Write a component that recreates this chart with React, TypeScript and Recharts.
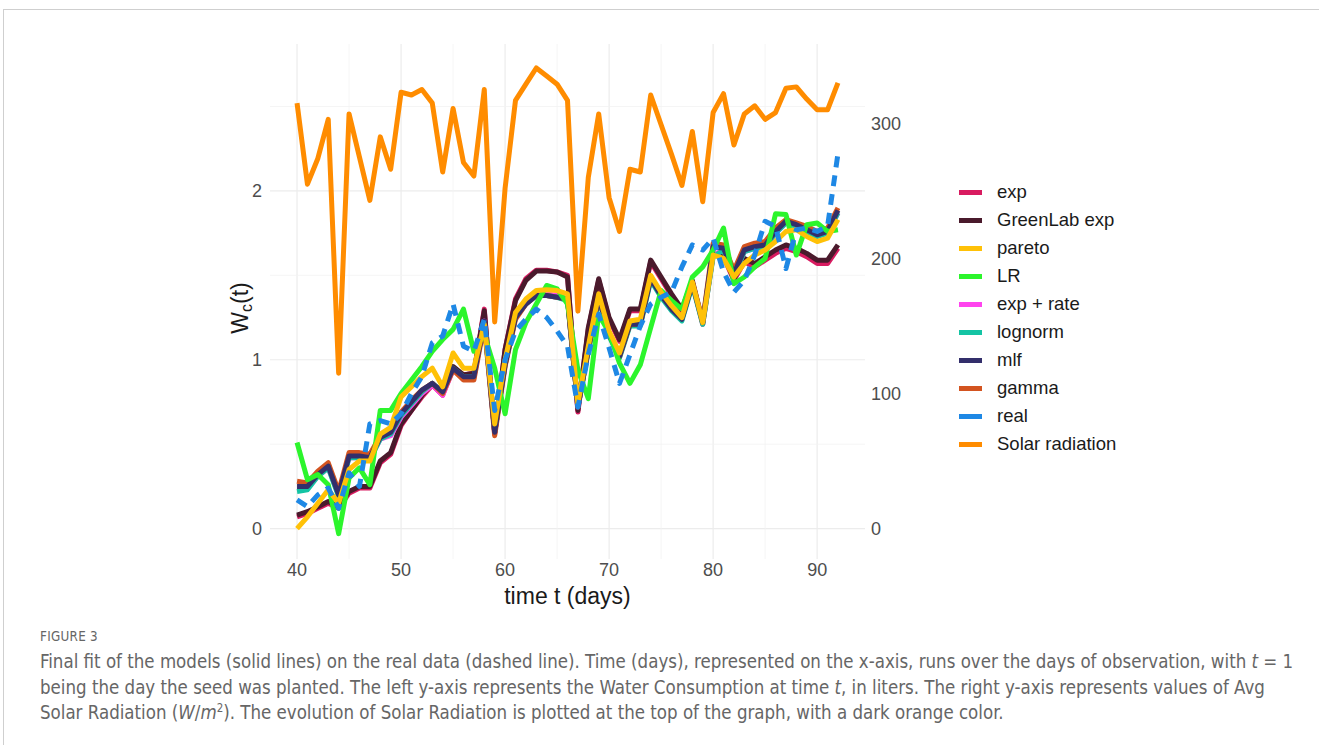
import React from 'react';
import { LineChart, Line, XAxis, YAxis, CartesianGrid, Legend, Label } from 'recharts';

// days of observation
const days = [
  40, 41, 42, 43, 44, 45, 46, 47, 48, 49, 50, 51, 52, 53, 54, 55, 56, 57, 58, 59,
  60, 61, 62, 63, 64, 65, 66, 67, 68, 69, 70, 71, 72, 73, 74, 75, 76, 77, 78, 79,
  80, 81, 82, 83, 84, 85, 86, 87, 88, 89, 90, 91, 92,
];

// water consumption, litres (left axis)
const expVals = [
  0.07, 0.09, 0.12, 0.15, 0.12, 0.21, 0.24, 0.24, 0.39, 0.44, 0.61, 0.7, 0.78, 0.85, 0.79, 0.95, 0.91, 0.92, 1.3, 0.56,
  1.06, 1.36, 1.48, 1.53, 1.53, 1.52, 1.5, 0.69, 1.18, 1.47, 1.24, 1.11, 1.29, 1.29, 1.58, 1.48, 1.38, 1.29, 1.46, 1.21,
  1.62, 1.61, 1.47, 1.58, 1.55, 1.59, 1.63, 1.66, 1.64, 1.61, 1.57, 1.57, 1.66,
];
const greenLabVals = [
  0.08, 0.1, 0.13, 0.16, 0.13, 0.22, 0.25, 0.25, 0.4, 0.45, 0.62, 0.7, 0.79, 0.86, 0.8, 0.96, 0.91, 0.92, 1.29, 0.57,
  1.06, 1.35, 1.47, 1.525, 1.525, 1.52, 1.49, 0.7, 1.19, 1.48, 1.25, 1.12, 1.3, 1.3, 1.59, 1.49, 1.39, 1.3, 1.47, 1.22,
  1.63, 1.62, 1.48, 1.6, 1.57, 1.61, 1.65, 1.68, 1.66, 1.63, 1.59, 1.59, 1.68,
];
const paretoVals = [
  0.0, 0.07, 0.15, 0.23, 0.15, 0.35, 0.4, 0.4, 0.56, 0.6, 0.78, 0.84, 0.9, 0.95, 0.84, 1.04, 0.95, 0.95, 1.21, 0.62,
  1.0, 1.28, 1.36, 1.41, 1.415, 1.41, 1.39, 0.74, 1.08, 1.39, 1.17, 1.04, 1.23, 1.24, 1.5, 1.4, 1.32, 1.25, 1.46, 1.22,
  1.62, 1.6, 1.49, 1.57, 1.62, 1.65, 1.7, 1.76, 1.77, 1.73, 1.7, 1.72, 1.83,
];
const lrVals = [
  0.51, 0.29, 0.32, 0.26, -0.03, 0.3, 0.36, 0.26, 0.7, 0.7, 0.8, 0.88, 0.96, 1.05, 1.12, 1.18, 1.3, 1.05, 1.15, 0.95,
  0.68, 1.06, 1.22, 1.33, 1.44, 1.42, 1.33, 0.94, 0.77, 1.27, 1.16, 0.98, 0.86, 0.97, 1.19, 1.41, 1.35, 1.3, 1.49, 1.55,
  1.65, 1.78, 1.45, 1.49, 1.55, 1.6, 1.865, 1.86, 1.62, 1.8, 1.81, 1.76, 1.77,
];
const expRateVals = [
  0.24, 0.24, 0.31, 0.36, 0.2, 0.42, 0.42, 0.41, 0.53, 0.55, 0.66, 0.73, 0.8, 0.85, 0.79, 0.94, 0.89, 0.89, 1.23, 0.57,
  0.98, 1.26, 1.34, 1.39, 1.39, 1.38, 1.36, 0.72, 1.06, 1.37, 1.15, 1.02, 1.21, 1.21, 1.48, 1.38, 1.3, 1.24, 1.45, 1.22,
  1.62, 1.65, 1.5, 1.64, 1.66, 1.67, 1.75, 1.81, 1.79, 1.76, 1.73, 1.75, 1.87,
];
const lognormVals = [
  0.22, 0.23, 0.31, 0.36, 0.19, 0.42, 0.42, 0.41, 0.53, 0.56, 0.67, 0.74, 0.81, 0.86, 0.81, 0.95, 0.9, 0.9, 1.22, 0.57,
  0.97, 1.25, 1.33, 1.38, 1.38, 1.37, 1.35, 0.72, 1.05, 1.36, 1.14, 1.01, 1.2, 1.2, 1.47, 1.37, 1.29, 1.23, 1.44, 1.21,
  1.61, 1.65, 1.5, 1.64, 1.66, 1.67, 1.75, 1.81, 1.79, 1.76, 1.73, 1.75, 1.87,
];
const mlfVals = [
  0.25, 0.25, 0.32, 0.37, 0.2, 0.43, 0.43, 0.42, 0.54, 0.57, 0.68, 0.75, 0.82, 0.86, 0.81, 0.95, 0.9, 0.9, 1.23, 0.57,
  0.97, 1.25, 1.33, 1.38, 1.38, 1.37, 1.36, 0.72, 1.06, 1.37, 1.15, 1.02, 1.21, 1.21, 1.48, 1.38, 1.3, 1.24, 1.45, 1.22,
  1.67, 1.66, 1.51, 1.65, 1.67, 1.68, 1.76, 1.82, 1.8, 1.77, 1.74, 1.76, 1.885,
];
const gammaVals = [
  0.28, 0.27, 0.34, 0.39, 0.22, 0.45, 0.45, 0.44, 0.55, 0.58, 0.69, 0.76, 0.82, 0.86, 0.8, 0.94, 0.88, 0.88, 1.21, 0.55,
  0.96, 1.24, 1.33, 1.38, 1.38, 1.37, 1.36, 0.72, 1.06, 1.37, 1.15, 1.02, 1.21, 1.21, 1.49, 1.39, 1.31, 1.25, 1.46, 1.23,
  1.69, 1.68, 1.53, 1.67, 1.69, 1.7, 1.78, 1.83, 1.81, 1.79, 1.76, 1.78, 1.9,
];
const realVals = [
  0.17, 0.13, 0.2, 0.24, 0.12, 0.33, 0.25, 0.62, 0.64, 0.62, 0.68, 0.8, 0.9, 1.1, 1.14, 1.33, 1.08, 1.05, 1.24, 0.7,
  1.0, 1.17, 1.24, 1.3, 1.25, 1.17, 1.08, 0.72, 1.03, 1.27, 1.07, 0.86, 1.03, 1.2, 1.33, 1.37, 1.4, 1.55, 1.68, 1.65,
  1.72, 1.52, 1.4, 1.47, 1.62, 1.82, 1.79, 1.54, 1.77, 1.78, 1.76, 1.79, 2.22,
];

// avg solar radiation, W/m2 (right axis)
const solarVals = [
  315, 255, 274, 303, 115, 307, 275, 243, 290, 266, 323, 321, 325, 315, 264, 311, 271, 261, 325, 153,
  252, 317, 329, 341, 335, 329, 317, 161, 260, 307, 245, 220, 266, 264, 321, 299, 277, 254, 294, 242,
  308, 322, 284, 307, 313, 303, 308, 326, 327, 318, 310, 310, 330,
];

const xTicks = [40, 50, 60, 70, 80, 90];
const xMinor = [45, 55, 65, 75, 85];
const leftTicks = [0, 1, 2];
const leftMinor = [0.5, 1.5, 2.5];
const rightTicks = [0, 100, 200, 300];

const SEC = 125; // right axis = left * 125

const series = [
  { key: 'exp', name: 'exp', color: '#D81B60', vals: expVals },
  { key: 'greenlab', name: 'GreenLab exp', color: '#4A1A2C', vals: greenLabVals },
  { key: 'pareto', name: 'pareto', color: '#FFC107', vals: paretoVals },
  { key: 'lr', name: 'LR', color: '#2CF52C', vals: lrVals },
  { key: 'exprate', name: 'exp + rate', color: '#FF44EE', vals: expRateVals },
  { key: 'lognorm', name: 'lognorm', color: '#14C4A4', vals: lognormVals },
  { key: 'mlf', name: 'mlf', color: '#332F6B', vals: mlfVals },
  { key: 'gamma', name: 'gamma', color: '#D35420', vals: gammaVals },
  { key: 'real', name: 'real', color: '#1E88E5', vals: realVals },
  { key: 'solar', name: 'Solar radiation', color: '#FF8C00', vals: solarVals },
];

// drawing order (bottom to top)
const drawOrder = ['exp', 'greenlab', 'exprate', 'lognorm', 'gamma', 'mlf', 'lr', 'pareto', 'real', 'solar'];

const data = days.map((d, i) => {
  const row: Record<string, number> = { day: d };
  series.forEach((s) => {
    row[s.key] = s.vals[i];
  });
  return row;
});

const FONT = '"Liberation Sans", Arial, sans-serif';

function LegendBox() {
  return (
    <div style={{ fontFamily: FONT }}>
      {series.map((s) => (
        <div key={s.key} style={{ display: 'flex', alignItems: 'center', height: 28 }}>
          <div style={{ width: 23, height: 5, background: s.color }} />
          <span style={{ marginLeft: 15, fontSize: 18.5, color: '#1a1a1a' }}>{s.name}</span>
        </div>
      ))}
    </div>
  );
}

function YTitle() {
  return (
    <text
      x={240}
      y={308}
      transform="rotate(-90, 240, 308)"
      textAnchor="middle"
      dominantBaseline="central"
      fontSize={23}
      fill="#1a1a1a"
      fontFamily={FONT}
    >
      W<tspan fontSize={16} dy={6}>c</tspan>
      <tspan dy={-6}>(t)</tspan>
    </text>
  );
}

export default function App() {
  const tick = { fill: '#4d4d4d', fontSize: 18, fontFamily: FONT };
  return (
    <div style={{ position: 'fixed', left: 0, top: 0, width: 1319, height: 745, background: '#fff', overflow: 'hidden' }}>
      <div
        style={{
          position: 'absolute', left: 3, top: 9, width: 1330, height: 760,
          borderTop: '1px solid #cfcfcf', borderLeft: '1px solid #cfcfcf',
        }}
      />
      <div style={{ position: 'absolute', left: 0, top: 0 }}>
        <LineChart
          width={1319}
          height={620}
          data={data}
          margin={{ top: 44, left: 210, right: 394, bottom: 31 }}
          style={{ fontFamily: FONT }}
        >
          <CartesianGrid yAxisId="left" stroke="#ececec" strokeWidth={1.2}
            horizontalValues={leftTicks} verticalValues={xTicks} />
          <CartesianGrid yAxisId="left" stroke="#f3f3f3" strokeWidth={0.8}
            horizontalValues={leftMinor} verticalValues={xMinor} />
          <XAxis
            dataKey="day"
            type="number"
            domain={[37.4, 94.6]}
            allowDataOverflow
            ticks={xTicks}
            axisLine={false}
            tickLine={false}
            tickSize={0}
            tickMargin={4}
            height={30}
            tick={tick}
          >
            <Label value="time t (days)" position="bottom" offset={-1} fontSize={23} fill="#1a1a1a" />
          </XAxis>
          <YAxis
            yAxisId="left"
            type="number"
            domain={[-0.18, 2.87]}
            allowDataOverflow
            ticks={leftTicks}
            axisLine={false}
            tickLine={false}
            tickSize={0}
            tickMargin={8}
            width={60}
            tick={tick}
          >
            <Label content={<YTitle />} />
          </YAxis>
          <YAxis
            yAxisId="right"
            orientation="right"
            type="number"
            domain={[-0.18 * SEC, 2.87 * SEC]}
            allowDataOverflow
            ticks={rightTicks}
            axisLine={false}
            tickLine={false}
            tickSize={0}
            tickMargin={6}
            width={60}
            tick={{ ...tick, textAnchor: 'start' }}
          />
          {drawOrder.map((k) => {
            const s = series.find((x) => x.key === k)!;
            return (
              <Line
                key={k}
                yAxisId={k === 'solar' ? 'right' : 'left'}
                type="linear"
                dataKey={k}
                name={s.name}
                stroke={s.color}
                strokeWidth={5}
                strokeDasharray={k === 'real' ? '11 8' : undefined}
                strokeLinejoin="round"
                strokeLinecap="butt"
                dot={false}
                activeDot={false}
                isAnimationActive={false}
              />
            );
          })}
          <Legend
            layout="vertical"
            align="center"
            verticalAlign="middle"
            content={<LegendBox />}
            wrapperStyle={{ left: 959, top: 178, width: 220, height: 290 }}
          />
        </LineChart>
      </div>
      <div
        style={{
          position: 'absolute', left: 40, top: 627, color: '#666', width: 1400,
          fontFamily: '"DejaVu Sans Condensed", "DejaVu Sans", sans-serif', fontStretch: 'condensed',
          transform: 'scaleX(0.95)', transformOrigin: 'left top',
        }}
      >
        <div style={{ fontSize: 14, letterSpacing: 0.3, lineHeight: '18px' }}>FIGURE 3</div>
        <div style={{ fontSize: 19.5, lineHeight: '25.5px', marginTop: 4, whiteSpace: 'nowrap' }}>
          Final fit of the models (solid lines) on the real data (dashed line). Time (days), represented on the x-axis, runs over the days of observation, with <i>t</i> = 1
          <br />
          being the day the seed was planted. The left y-axis represents the Water Consumption at time <i>t</i>, in liters. The right y-axis represents values of Avg
          <br />
          Solar Radiation (<i>W</i>/<i>m</i><sup style={{ fontSize: 12, lineHeight: 0 }}>2</sup>). The evolution of Solar Radiation is plotted at the top of the graph, with a dark orange color.
        </div>
      </div>
    </div>
  );
}
